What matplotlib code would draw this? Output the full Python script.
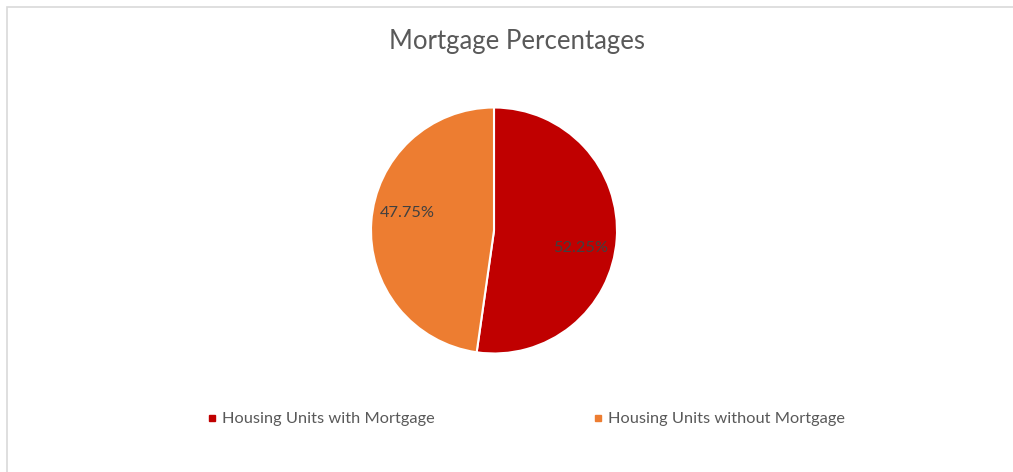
import numpy as np
from matplotlib import pyplot as plt
from matplotlib.patches import Rectangle
from matplotlib.lines import Line2D

labels = ['Housing Units with Mortgage', 'Housing Units without Mortgage']
shares = [52.25, 47.75]
colors = ['#C00000', '#ED7D31']

W, H = 1013, 472
fig = plt.figure(figsize=(W / 100, H / 100), dpi=100)
plt.rcParams['font.family'] = ['Lato', 'DejaVu Sans']

# chart frame (right and bottom edges fall outside the crop)
fig.patches.append(Rectangle((6.5 / W, -0.1), 1.2, 1 - 6.5 / H + 0.1,
                             transform=fig.transFigure, fill=False,
                             edgecolor='#D9D9D9', linewidth=1.2))

cx, cy, r = 494, 230.5, 123
ax = fig.add_axes([(cx - r) / W, (H - cy - r) / H, 2 * r / W, 2 * r / H])
wedges, texts, autotexts = ax.pie(
    shares, colors=colors, startangle=90, counterclock=False,
    autopct='%.2f%%', pctdistance=0.71,
    wedgeprops=dict(edgecolor='white', linewidth=1.5),
    textprops=dict(color='#404040', fontsize=11.8))
ax.set_xlim(-1, 1)
ax.set_ylim(-1, 1)
ax.set_aspect('equal')

# nudge labels slightly clockwise, like Excel's best-fit placement
for w, t in zip(wedges, autotexts):
    ang = np.deg2rad((w.theta1 + w.theta2) / 2 - 7.5)
    t.set_position((0.72 * np.cos(ang), 0.72 * np.sin(ang)))

fig.text(517 / W, 1 - 41 / H, 'Mortgage Percentages', ha='center',
         va='center', fontsize=18.5, color='#595959')

handles = [Line2D([], [], marker='s', linestyle='none', color=c,
                  markersize=5) for c in colors]
fig.legend(handles, labels, loc='center', ncol=2,
           bbox_to_anchor=(526 / W, 1 - 419 / H), frameon=False,
           fontsize=11.8, labelcolor='#595959', handlelength=0.6,
           handletextpad=0.3, columnspacing=9.7)

plt.savefig('out.png', dpi=100)
